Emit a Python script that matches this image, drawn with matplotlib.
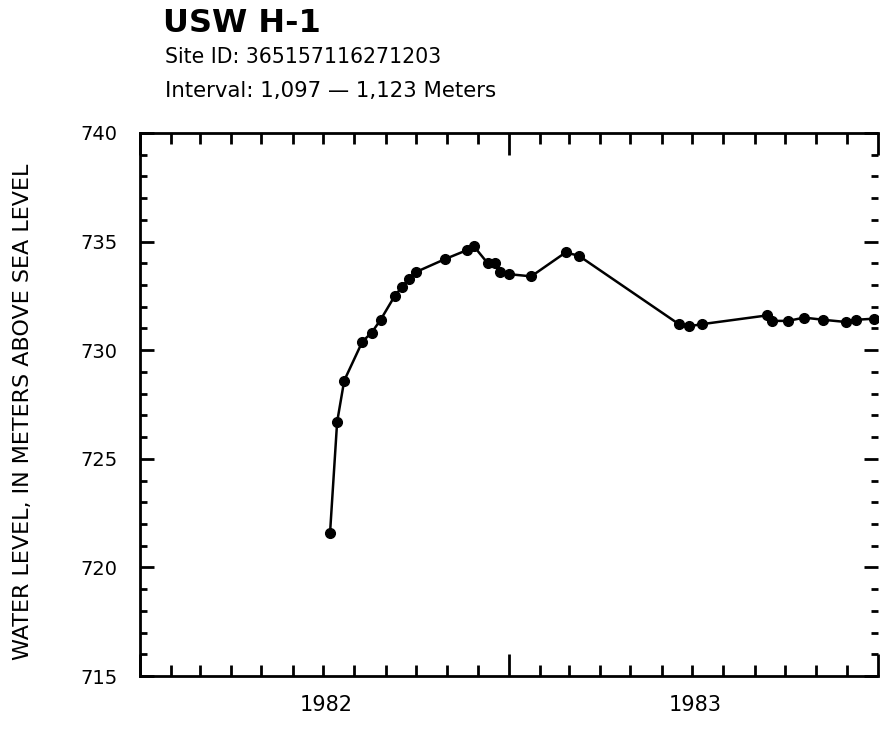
import matplotlib
matplotlib.use("Agg")
import matplotlib.pyplot as plt
import matplotlib.dates as mdates
import matplotlib.transforms as mtransforms
import pandas as pd
import numpy as np

# water level readings
dates = ['1982-07-08', '1982-07-15', '1982-07-22', '1982-08-09', '1982-08-18',
         '1982-08-27', '1982-09-10', '1982-09-17', '1982-09-24', '1982-10-01',
         '1982-10-30', '1982-11-20', '1982-11-27', '1982-12-11', '1982-12-18',
         '1982-12-23', '1983-01-01', '1983-01-23', '1983-02-26', '1983-03-11',
         '1983-06-18', '1983-06-28', '1983-07-11', '1983-09-13', '1983-09-18',
         '1983-10-04', '1983-10-20', '1983-11-08', '1983-11-30', '1983-12-10',
         '1983-12-28']
level = [721.6, 726.7, 728.6, 730.4, 730.8,
         731.4, 732.5, 732.9, 733.3, 733.6,
         734.2, 734.6, 734.8, 734.0, 734.0,
         733.6, 733.5, 733.4, 734.5, 734.35,
         731.2, 731.1, 731.2, 731.6, 731.35,
         731.35, 731.5, 731.4, 731.3, 731.4,
         731.45]
years = [1982, 1983]

title = "USW H-1"
site = "Site ID: 365157116271203"
interval = "Interval: 1,097 \u2014 1,123 Meters"
ylabel = "WATER LEVEL, IN METERS ABOVE SEA LEVEL"

plt.rcParams['font.family'] = ['DejaVu Sans']

fig = plt.figure(figsize=(8.81, 7.29), dpi=100)
ax = fig.add_axes([140/881, 53/729, 738/881, 543/729])

t = pd.to_datetime(dates)
ax.plot(t, level, color='black', lw=1.8, marker='o', ms=7, zorder=3)

ax.set_xlim(pd.Timestamp('1982-01-01'), pd.Timestamp('1984-01-01'))
ax.set_ylim(715, 740)

ax.xaxis.set_major_locator(mdates.YearLocator())
ax.xaxis.set_minor_locator(mdates.MonthLocator())
ax.xaxis.set_major_formatter(plt.NullFormatter())
ax.set_yticks(np.arange(715, 741, 5))
ax.set_yticks(np.arange(715, 741, 1), minor=True)

ax.tick_params(axis='both', which='both', direction='in', top=True, right=True,
               width=2, colors='black')
ax.tick_params(axis='x', which='major', length=16)
ax.tick_params(axis='x', which='minor', length=8)
ax.tick_params(axis='y', which='major', length=10, labelsize=14, pad=16)
ax.tick_params(axis='y', which='minor', length=5)

for s in ['left', 'bottom', 'top']:
    ax.spines[s].set_linewidth(2)
ax.spines['right'].set_visible(False)

# year labels centred under each year
trans = mtransforms.blended_transform_factory(ax.transData, ax.transAxes)
for y in years:
    mid = pd.Timestamp(f'{y}-07-04')
    ax.text(mdates.date2num(mid), -0.053, str(y), transform=trans,
            ha='center', va='center', fontsize=15)

fig.text(23/881, 1 - 412/729, ylabel, rotation=90,
         ha='center', va='center', fontsize=16)

fig.text(163/881, 1 - 24/729, title, fontsize=23, fontweight='bold',
         ha='left', va='center')
fig.text(165/881, 1 - 57/729, site, fontsize=14.8, ha='left', va='center')
fig.text(165/881, 1 - 91/729, interval, fontsize=15.3, ha='left', va='center')

fig.savefig('out.png', dpi=100)
